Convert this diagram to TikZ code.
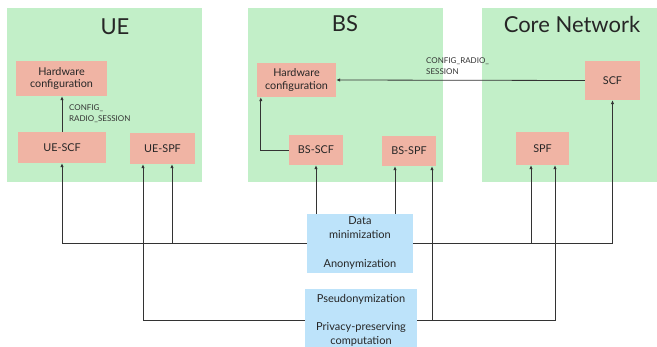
\documentclass[tikz,border=0pt]{standalone}
\usepackage{fontspec}
\setmainfont{Lato}
\usetikzlibrary{arrows.meta}
\definecolor{grn}{HTML}{C2EFC8}
\definecolor{slm}{HTML}{F0B4A4}
\definecolor{blu}{HTML}{BDE3FA}
\definecolor{ln}{HTML}{333333}
\tikzset{
  region/.style={fill=grn,draw=none,inner sep=0pt},
  fbox/.style={fill=slm,draw=none,inner sep=0pt,align=center,text=black!85,font=\fontsize{10.8}{12.5}\selectfont},
  pbox/.style={fill=blu,draw=none,inner sep=0pt,align=center,text=black!85,font=\fontsize{11}{14}\selectfont},
  title/.style={font=\fontsize{22}{24}\selectfont,text=black!85},
  lbl/.style={font=\fontsize{8}{11}\selectfont,align=left,anchor=west,inner sep=0pt,text=black!80},
  arr/.style={draw=ln,line width=0.8pt,-{Latex[length=4pt,width=3.5pt]}},
  wire/.style={draw=ln,line width=0.8pt}
}
\begin{document}
\begin{tikzpicture}[x=1pt,y=-1pt]
\useasboundingbox (0,0) rectangle (657,347);
% regions
\node[region,minimum width=195pt,minimum height=174pt] (ue) at (104.5,95) {};
\node[region,minimum width=195pt,minimum height=174pt] (bs) at (345.5,95) {};
\node[region,minimum width=175pt,minimum height=174pt] (cn) at (569.5,95) {};
\node[title] (uet) at (115,27) {UE};
\node[title] (bst) at (345,24) {BS};
\node[title] (cnt) at (572,24) {Core Network};
% function boxes
\node[fbox,minimum width=91pt,minimum height=35pt] (uehw) at (61.5,78.5) {Hardware\\configuration};
\node[fbox,minimum width=88pt,minimum height=31pt] (uescf) at (62,147.5) {UE-SCF};
\node[fbox,minimum width=65pt,minimum height=31pt] (uespf) at (162.5,148.5) {UE-SPF};
\node[fbox,minimum width=79pt,minimum height=34pt] (bshw) at (296.5,80) {Hardware\\configuration};
\node[fbox,minimum width=54pt,minimum height=30pt] (bsscf) at (316,150) {BS-SCF};
\node[fbox,minimum width=54pt,minimum height=30pt] (bsspf) at (409,151) {BS-SPF};
\node[fbox,minimum width=55pt,minimum height=39pt] (scf) at (612.5,80.5) {SCF};
\node[fbox,minimum width=53pt,minimum height=33pt] (spf) at (542.5,148.5) {SPF};
% privacy boxes
\node[pbox,minimum width=106pt,minimum height=59pt] (pb1) at (360,243.5) {Data\\minimization\\[15pt]Anonymization};
\node[pbox,minimum width=112pt,minimum height=63pt] (pb2) at (361,320.5) {Pseudonymization\\[14pt]Privacy-preserving\\computation};
% labels
\node[lbl] (l1) at (69,114) {CONFIG\_\\RADIO\_SESSION};
\node[lbl] (l2) at (426,66.5) {CONFIG\_RADIO\_\\SESSION};
% internal connectors
\draw[arr] (uescf.north) -- (uehw.south -| uescf.north);
\coordinate (bshwin) at ([xshift=4pt]bshw.south west);
\draw[arr] (bsscf.west) -| (bshwin);
\draw[arr] (scf.west) -- (bshw.east);
% coordinates of arrow entries
\coordinate (uespfA) at ([xshift=-19.5pt]uespf.south);
\coordinate (uespfB) at ([xshift=9.5pt]uespf.south);
\coordinate (bsspfA) at ([xshift=-14pt]bsspf.south);
\coordinate (bsspfB) at ([xshift=23pt]bsspf.south);
\coordinate (spfA) at ([xshift=-11.5pt]spf.south);
\coordinate (spfB) at ([xshift=12.5pt]spf.south);
% net 1 (y of pb1)
\draw[arr] (pb1.west) -| (uescf.south);
\draw[arr] (uespfB |- pb1.west) -- (uespfB);
\draw[arr] (pb1.east) -| (scf.south);
\draw[arr] (spfA |- pb1.east) -- (spfA);
\draw[arr] (bsscf.south |- pb1.north) -- (bsscf.south);
\draw[arr] (bsspfA |- pb1.north) -- (bsspfA);
% net 2 (y of pb2)
\draw[arr] (pb2.west) -| (uespfA);
\draw[arr] (pb2.east) -| (spfB);
\draw[arr] (bsspfB |- pb2.east) -- (bsspfB);
\end{tikzpicture}
\end{document}
